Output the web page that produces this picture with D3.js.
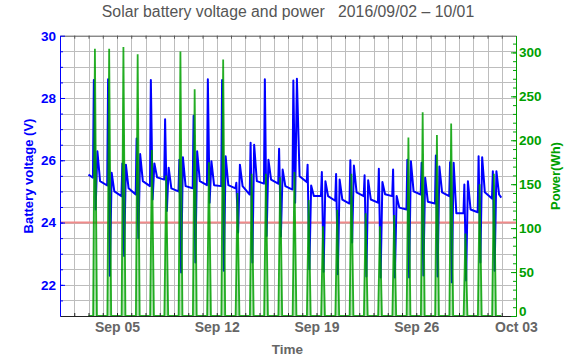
<!DOCTYPE html>
<html>
<head>
<meta charset="utf-8">
<script src="https://cdn.jsdelivr.net/npm/d3@7"></script>
<style>
  body { margin: 0; background: #fff; }
  svg { font-family: "Liberation Sans", Arial, Helvetica, sans-serif; }
</style>
</head>
<body>
<svg id="chart" width="576" height="362"></svg>
<script>
// Readings per day, first entry = Sep 03, last = Sep 30
const firstDay = new Date(2016, 8, 3);
const vFirst = 25.54;   // voltage at start of record
const vLast = 24.8;     // voltage at end of record
const vPre  = [25.44, 25.19, 24.85, 24.9, 25.17, 25.38, 25.0, 25.1, 25.2, 25.17, 25.1, 24.9, 25.25, 25.25, 25.06,
               25.3, 24.85, 24.7, 24.61, 24.85, 24.64, 24.85, 24.42, 24.9, 24.61, 24.85, 24.3, 24.33, 24.77];
const vPeak = [28.58, 28.6, 25.9, 26.7, 28.58, 27.32, 26.02, 27.43, 28.6, 28.58, 25.28, 26.56, 28.6, 26.37, 28.56,
               25.86, 25.62, 25.56, 26.0, 25.52, 25.73, 25.7, 26.02, 25.92, 26.15, 25.94, 25.22, 26.13, 25.65];
const vDip  = [24.42, 22.29, 22.93, 23.5, 24.74, 24.37, 22.4, 22.72, 24.64, 22.45, 23.68, 22.72, 23.57, 23.55, 24.64,
               22.5, 22.42, 22.34, 23.36, 22.27, 22.24, 22.24, 22.24, 22.3, 22.27, 22.08, 22.14, 22.72, 22.45];
const vBump = [26.29, 25.6, 25.86, 26.2, 25.9, 25.76, 26.1, 26.29, 25.97, 26.13, 25.86, 26.5, 26.02, 25.7, 28.62,
               25.19, 25.33, 25.38, 25.83, 25.36, 25.3, 24.85, 25.97, 25.44, 25.8, 25.92, 25.33, 26.1, 25.65];
const vEve  = [25.33, 25.0, 25.1, 25.33, 25.45, 25.1, 25.17, 25.33, 25.2, 25.2, 25.17, 25.33, 25.38, 25.17, 25.49,
               24.85, 24.85, 24.74, 24.97, 24.74, 24.91, 24.48, 25.0, 24.67, 24.97, 24.3, 24.42, 24.97, 24.9];
const pPeak = [304, 304, 306, 298, 189, 160, 301, 258, 175, 292, 140, 162, 162, 158, 164,
               132, 102, 121, 162, 117, 102, 115, 203, 232, 206, 219, 94, 150, 162];
const lowLimit = 24;
const dateTicks = [new Date(2016, 8, 5), new Date(2016, 8, 12), new Date(2016, 8, 19), new Date(2016, 8, 26), new Date(2016, 9, 3)];
const voltTicks = [22, 24, 26, 28, 30];
const powerTicks = [0, 50, 100, 150, 200, 250, 300];

// hour of day for each reading
const hPre = 7.5, hPeak = 9, hDip = 12, hBump = 15, hEve = 19.5, hEnd = 23.2;
const hGreenOn = 7.8, hGreenTop = 10.8, hGreenOff = 14.2;

const at = (i, h) => new Date(firstDay.getTime() + (i * 24 + h) * 3600e3);

const volts = [{ t: at(0, 0), v: vFirst }];
vPre.forEach((_, i) => {
  volts.push(
    { t: at(i, hPre), v: vPre[i] },
    { t: at(i, hPeak), v: vPeak[i] },
    { t: at(i, hDip), v: vDip[i] },
    { t: at(i, hBump), v: vBump[i] },
    { t: at(i, hEve), v: vEve[i] }
  );
});
volts.push({ t: at(vPre.length - 1, hEnd), v: vLast });

const power = [{ t: at(0, 0), p: 0 }];
pPeak.forEach((p, i) => {
  power.push(
    { t: at(i, hGreenOn), p: 0 },
    { t: at(i, hGreenTop), p: p },
    { t: at(i, hGreenOff), p: 0 }
  );
});
power.push({ t: at(pPeak.length - 1, hEnd), p: 0 });

const pLeft = 60, pRight = 516, pTop = 35.7, pBottom = 316;
const BLUE = '#0000ff', GREEN = '#00a000', GRAY = '#666';

const svg = d3.select('#chart');

const x = d3.scaleTime()
  .domain([new Date(2016, 8, 1), new Date(2016, 9, 3)])
  .range([pLeft, pRight]);
const yV = d3.scaleLinear().domain([21, 30]).range([pBottom, pTop]);
const yP = d3.scaleLinear().domain([0, 319]).range([pBottom, pTop]);

svg.append('defs').append('clipPath').attr('id', 'plot')
  .append('rect')
  .attr('x', pLeft).attr('y', pTop)
  .attr('width', pRight - pLeft).attr('height', pBottom - pTop);

// Grid
const days = d3.timeDay.range(x.domain()[0], x.domain()[1]).slice(1);
const halfVolts = d3.range(21.5, 30, 0.5);
const grid = svg.append('g').attr('stroke', '#bdbdbd').attr('stroke-width', 1);
grid.selectAll('line.v').data(days).join('line')
  .attr('x1', d => Math.round(x(d)) + 0.5).attr('x2', d => Math.round(x(d)) + 0.5)
  .attr('y1', pTop).attr('y2', pBottom);
grid.selectAll('line.h').data(halfVolts).join('line')
  .attr('y1', d => Math.round(yV(d)) + 0.5).attr('y2', d => Math.round(yV(d)) + 0.5)
  .attr('x1', pLeft).attr('x2', pRight);

// Low voltage limit
svg.append('line')
  .attr('x1', pLeft).attr('x2', pRight)
  .attr('y1', yV(lowLimit)).attr('y2', yV(lowLimit))
  .attr('stroke', '#f08a8a').attr('stroke-width', 2);

const plot = svg.append('g').attr('clip-path', 'url(#plot)');

// Voltage
plot.append('path')
  .datum(volts)
  .attr('fill', 'none')
  .attr('stroke', BLUE)
  .attr('stroke-width', 2)
  .attr('stroke-linejoin', 'round')
  .attr('d', d3.line().x(d => x(d.t)).y(d => yV(d.v)));

// Power
plot.append('path')
  .datum(power)
  .attr('fill', GREEN)
  .attr('fill-opacity', 0.3)
  .attr('d', d3.area().x(d => x(d.t)).y0(yP(0)).y1(d => yP(d.p)));
plot.append('path')
  .datum(power)
  .attr('fill', 'none')
  .attr('stroke', GREEN)
  .attr('stroke-opacity', 0.85)
  .attr('stroke-width', 1.8)
  .attr('d', d3.line().x(d => x(d.t)).y(d => yP(d.p)));

// Top frame
const topAxis = svg.append('g').attr('transform', `translate(0,${pTop})`)
  .call(d3.axisTop(x).tickValues(days).tickSizeInner(-3).tickSizeOuter(0).tickFormat(''));
topAxis.selectAll('line, path').attr('stroke', '#555');

// Bottom axis
const bottomAxis = svg.append('g').attr('transform', `translate(0,${pBottom})`)
  .call(d3.axisBottom(x).tickValues(days).tickSizeInner(-3).tickSizeOuter(0).tickFormat(''));
bottomAxis.selectAll('line, path').attr('stroke', '#222');
const bottomLabels = svg.append('g').attr('transform', `translate(0,${pBottom})`)
  .call(d3.axisBottom(x).tickValues(dateTicks).tickSize(0).tickPadding(6).tickFormat(d3.timeFormat('%b %d')));
bottomLabels.select('.domain').remove();
bottomLabels.selectAll('text')
  .attr('fill', GRAY).attr('font-size', 14).attr('font-weight', 'bold');

// Left axis (voltage)
const leftMinor = svg.append('g').attr('transform', `translate(${pLeft},0)`)
  .call(d3.axisLeft(yV).tickValues(halfVolts).tickSizeInner(-3).tickSizeOuter(0).tickFormat(''));
leftMinor.selectAll('line, path').attr('stroke', BLUE);
const leftAxis = svg.append('g').attr('transform', `translate(${pLeft},0)`)
  .call(d3.axisLeft(yV).tickValues(voltTicks).tickSizeInner(-5).tickSizeOuter(0).tickPadding(4));
leftAxis.selectAll('line, path').attr('stroke', BLUE);
leftAxis.selectAll('text')
  .attr('fill', BLUE).attr('font-size', 13.5).attr('font-weight', 'bold');

// Right axis (power)
const rightMinor = svg.append('g').attr('transform', `translate(${pRight},0)`)
  .call(d3.axisRight(yP).tickValues(d3.range(10, 319, 10)).tickSizeInner(-3).tickSizeOuter(0).tickFormat(''));
rightMinor.selectAll('line, path').attr('stroke', GREEN);
const rightAxis = svg.append('g').attr('transform', `translate(${pRight},0)`)
  .call(d3.axisRight(yP).tickValues(powerTicks).tickSizeInner(-5).tickSizeOuter(0).tickPadding(3));
rightAxis.selectAll('line, path').attr('stroke', GREEN);
rightAxis.selectAll('text')
  .attr('fill', GREEN).attr('font-size', 13.5).attr('font-weight', 'bold')
  .attr('dy', d => d === 0 ? '-0.05em' : '0.32em');

// Titles
svg.append('text')
  .attr('x', 288).attr('y', 17)
  .attr('text-anchor', 'middle')
  .attr('font-size', 15.8).attr('fill', '#555')
  .style('white-space', 'pre')
  .text('Solar battery voltage and power   2016/09/02 \u2013 10/01');

svg.append('text')
  .attr('x', 287.5).attr('y', 354)
  .attr('text-anchor', 'middle')
  .attr('font-size', 13.5).attr('font-weight', 'bold').attr('fill', GRAY)
  .text('Time');

svg.append('text')
  .attr('transform', 'translate(28,176) rotate(-90)')
  .attr('text-anchor', 'middle').attr('dy', '0.35em')
  .attr('font-size', 13).attr('font-weight', 'bold').attr('fill', BLUE)
  .text('Battery voltage (V)');

svg.append('text')
  .attr('transform', 'translate(555,176) rotate(-90)')
  .attr('text-anchor', 'middle').attr('dy', '0.35em')
  .attr('font-size', 13).attr('font-weight', 'bold').attr('fill', GREEN)
  .text('Power(Wh)');
</script>
</body>
</html>
